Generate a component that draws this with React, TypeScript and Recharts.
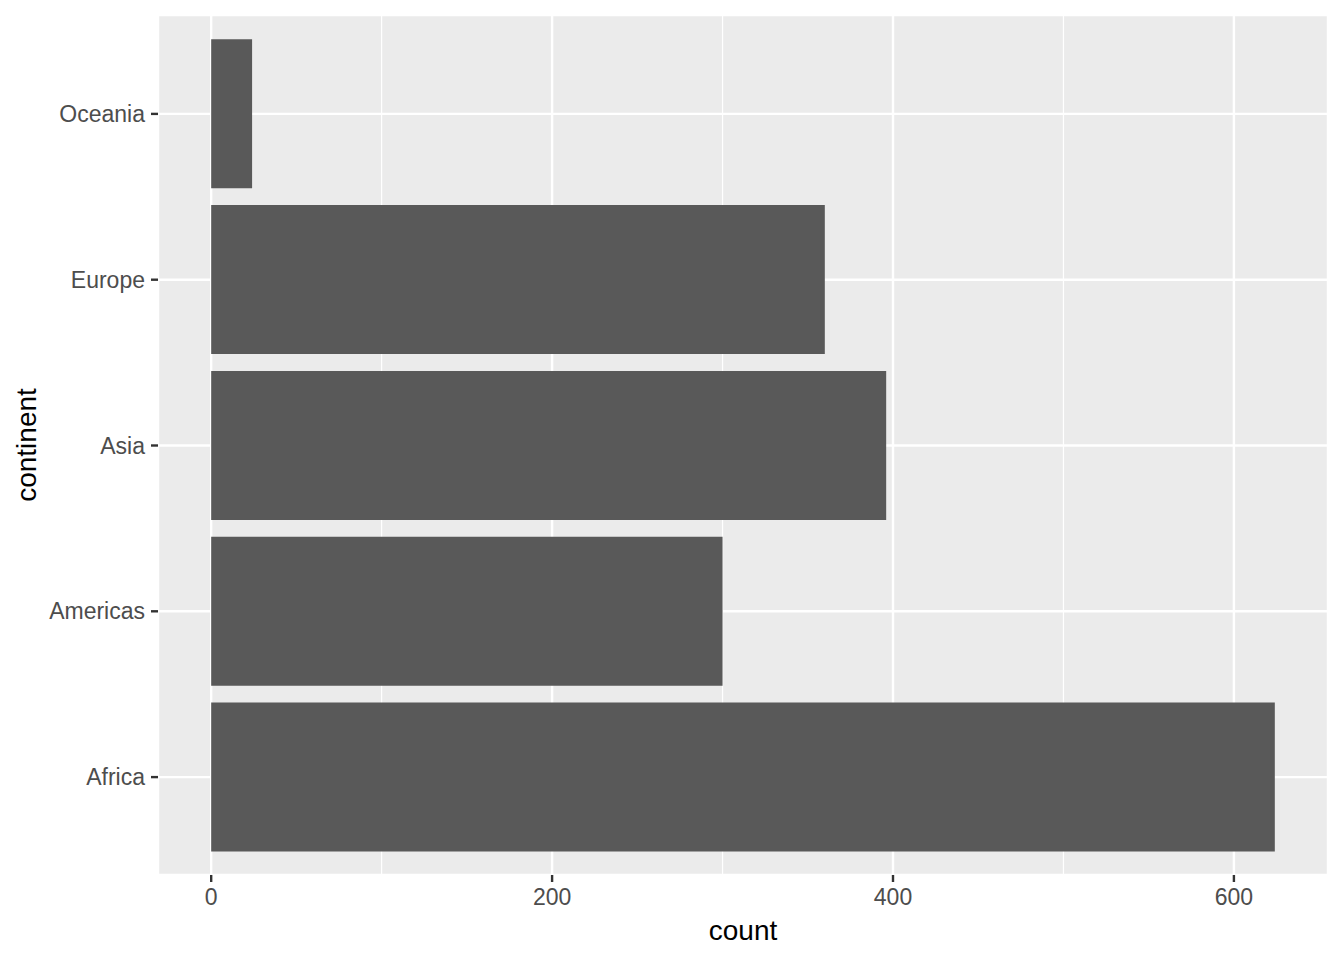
import React from 'react';
import { BarChart, Bar, XAxis, YAxis, CartesianGrid } from 'recharts';

const continents = ['Africa', 'Americas', 'Asia', 'Europe', 'Oceania'];
const counts = [624, 300, 396, 360, 24];
const majorTicks = [0, 200, 400, 600];
const minorTicks = [100, 300, 500];
const xDomain = [-31.2, 655.2];

const data = continents.map((c, i) => ({ continent: c, count: counts[i] }));

const YTitle = (props: any) => {
  const vb = props.viewBox || {};
  const cx = 26;
  const cy = vb.y + vb.height / 2;
  return (
    <text
      x={cx}
      y={cy}
      transform={`rotate(-90, ${cx}, ${cy})`}
      textAnchor="middle"
      dominantBaseline="central"
      fontSize={28}
      fill="#000"
    >
      continent
    </text>
  );
};

const App: React.FC = () => {
  return (
    <div style={{ position: 'absolute', left: 0, top: 0, fontFamily: '"Liberation Sans", Arial, sans-serif' }}>
      <BarChart
        width={1344}
        height={960}
        data={data}
        layout="vertical"
        margin={{ top: 15, right: 16, left: 0, bottom: 0 }}
        barCategoryGap="5%"
      >
        <CartesianGrid fill="#EBEBEB" stroke="#FFFFFF" strokeWidth={2.4} />
        <CartesianGrid xAxisId="minor" horizontal={false} stroke="#FFFFFF" strokeWidth={1.2} />
        <XAxis
          type="number"
          domain={xDomain}
          ticks={majorTicks}
          allowDataOverflow
          height={85}
          axisLine={false}
          tickSize={7}
          tickMargin={7}
          tickLine={{ stroke: '#333333', strokeWidth: 2.4 }}
          tick={{ fill: '#4D4D4D', fontSize: 23 }}
          label={{ value: 'count', position: 'insideBottom', offset: 20, fontSize: 28, fill: '#000' }}
        />
        <XAxis
          xAxisId="minor"
          type="number"
          domain={xDomain}
          ticks={minorTicks}
          allowDataOverflow
          hide
        />
        <YAxis
          type="category"
          dataKey="continent"
          reversed
          width={158}
          padding={{ top: 16, bottom: 15 }}
          axisLine={false}
          tickSize={7}
          tickMargin={6}
          tickLine={{ stroke: '#333333', strokeWidth: 2.4 }}
          tick={{ fill: '#4D4D4D', fontSize: 23 }}
          label={<YTitle />}
        />
        <Bar dataKey="count" fill="#595959" isAnimationActive={false} />
      </BarChart>
    </div>
  );
};

export default App;
